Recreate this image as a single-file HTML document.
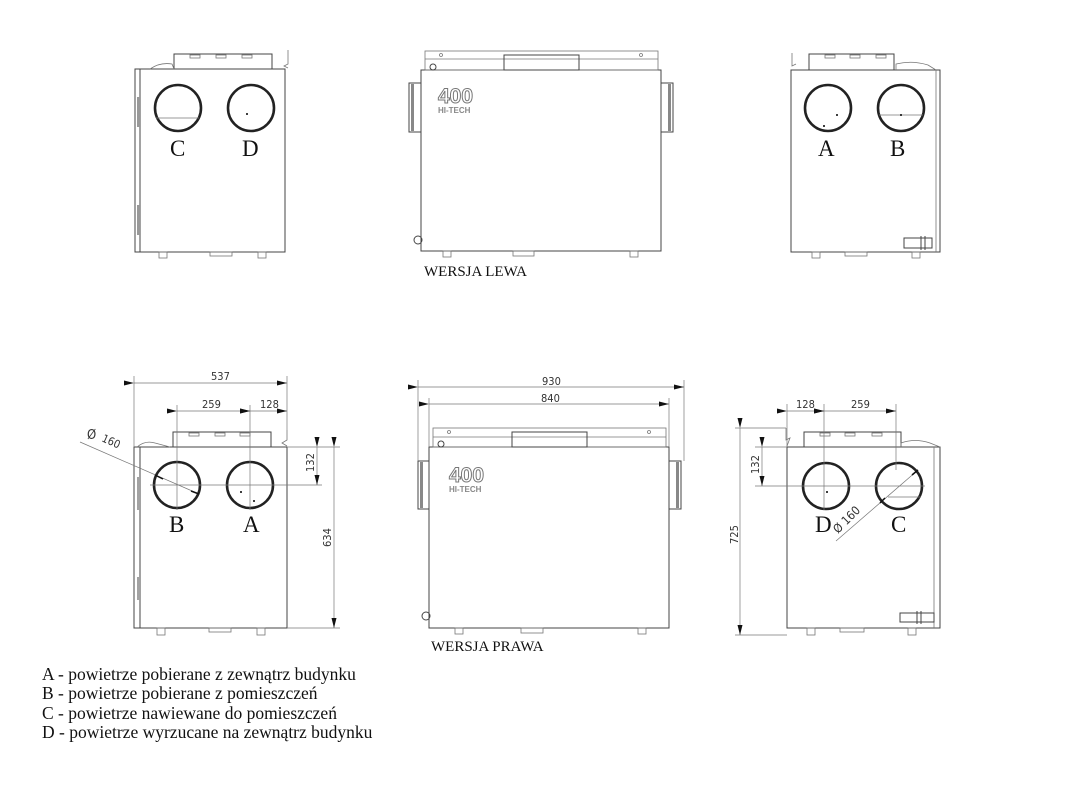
<!DOCTYPE html>
<html><head><meta charset="utf-8"><style>
html,body{margin:0;padding:0;background:#fff;}
svg{display:block}
.b{fill:none;stroke:#444;stroke-width:1}
.t{fill:none;stroke:#777;stroke-width:0.8}
.c{fill:#fff;stroke:#222;stroke-width:2.6}
.d{stroke:#777;stroke-width:0.7;fill:none}
.lab{font-family:"Liberation Serif",serif;font-size:23px;fill:#111}
.dim{font-family:"DejaVu Sans Condensed","Liberation Sans",sans-serif;font-size:11px;fill:#333}
.leg{font-family:"Liberation Serif",serif;font-size:17.5px;fill:#111}
.logo{font-family:"Liberation Sans",sans-serif;font-weight:bold;fill:#fff;stroke:#777;stroke-width:1}
.ht{font-family:"Liberation Sans",sans-serif;font-weight:bold;font-size:8px;fill:#888}
</style></head><body>
<svg width="1086" height="787" viewBox="0 0 1086 787" xmlns="http://www.w3.org/2000/svg">
<defs>
<marker id="ar" markerWidth="10" markerHeight="6" refX="10" refY="3" orient="auto" markerUnits="userSpaceOnUse"><path d="M0,0.5 L10,3 L0,5.5z" fill="#111"/></marker>
</defs>

<!-- ===== TOP LEFT ===== -->
<g>
<rect class="b" x="135" y="69" width="150" height="183"/>
<line class="b" x1="140" y1="69" x2="140" y2="252"/>
<rect x="137" y="97" width="3" height="30" fill="#999"/>
<rect x="137" y="205" width="3" height="30" fill="#999"/>
<rect class="b" x="174" y="54" width="98" height="15"/>
<path class="t" d="M150 69 Q160 62 172 64 L174 69"/>
<rect class="t" x="190" y="55" width="10" height="3"/><rect class="t" x="216" y="55" width="10" height="3"/><rect class="t" x="242" y="55" width="10" height="3"/>
<path class="t" d="M288 50 L288 64 L284 66 L288 68"/>
<rect class="t" x="159" y="252" width="8" height="6"/><rect class="t" x="210" y="252" width="22" height="4"/><rect class="t" x="258" y="252" width="8" height="6"/>
<circle class="c" cx="178" cy="108" r="23"/><line class="t" x1="156" y1="118" x2="199" y2="118"/>
<circle class="c" cx="251" cy="108" r="23"/><circle cx="247" cy="114" r="1" fill="#000"/>
<text class="lab" x="170" y="156">C</text><text class="lab" x="242" y="156">D</text>
</g>

<!-- ===== TOP MIDDLE ===== -->
<g>
<rect class="b" x="421" y="70" width="240" height="181"/>
<rect class="t" x="425" y="51" width="233" height="19"/>
<line class="t" x1="425" y1="59" x2="658" y2="59"/>
<rect class="b" x="504" y="55" width="75" height="15" fill="#fff"/>
<circle class="t" cx="441" cy="55" r="1.5"/><circle class="t" cx="641" cy="55" r="1.5"/>
<rect x="409" y="83" width="12" height="49" fill="#fff" stroke="#444"/><rect x="411" y="84" width="3" height="47" fill="#888"/>
<rect x="661" y="83" width="12" height="49" fill="#fff" stroke="#444"/><rect x="668" y="84" width="3" height="47" fill="#888"/>
<circle class="b" cx="433" cy="67" r="3"/><circle class="b" cx="418" cy="240" r="4"/>
<text class="logo" x="438" y="103" font-size="21">400</text>
<text class="ht" x="438" y="113">HI-TECH</text>
<rect class="t" x="443" y="251" width="8" height="6"/><rect class="t" x="513" y="251" width="21" height="5"/><rect class="t" x="630" y="251" width="8" height="6"/>
<text class="leg" x="424" y="276" style="font-size:15px">WERSJA LEWA</text>
</g>

<!-- ===== TOP RIGHT ===== -->
<g>
<rect class="b" x="791" y="70" width="149" height="182"/>
<line class="t" x1="936" y1="70" x2="936" y2="252"/>
<rect class="b" x="809" y="54" width="85" height="16"/>
<path class="t" d="M896 70 L896 64 Q912 60 928 65 L936 70"/>
<rect class="t" x="825" y="55" width="10" height="3"/><rect class="t" x="850" y="55" width="10" height="3"/><rect class="t" x="876" y="55" width="10" height="3"/>
<path class="t" d="M792 53 L792 66 L796 64"/>
<rect class="t" x="812" y="252" width="8" height="6"/><rect class="t" x="845" y="252" width="22" height="4"/><rect class="t" x="912" y="252" width="8" height="6"/>
<circle class="c" cx="828" cy="108" r="23"/><circle cx="837" cy="115" r="1" fill="#000"/><circle cx="824" cy="126" r="1" fill="#000"/>
<circle class="c" cx="901" cy="108" r="23"/><line class="t" x1="879" y1="115" x2="923" y2="115"/><circle cx="901" cy="115" r="1" fill="#000"/>
<text class="lab" x="818" y="156">A</text><text class="lab" x="890" y="156">B</text>
<rect class="b" x="904" y="238" width="28" height="10"/><line class="b" x1="921" y1="236" x2="921" y2="250"/><line class="b" x1="925" y1="236" x2="925" y2="250"/>
</g>

<!-- ===== BOTTOM LEFT ===== -->
<g>
<rect class="b" x="134" y="447" width="153" height="181"/>
<line class="b" x1="140" y1="447" x2="140" y2="628"/>
<line class="b" x1="138" y1="477" x2="138" y2="510"/><line class="b" x1="138" y1="577" x2="138" y2="600"/>
<rect class="b" x="173" y="432" width="98" height="15"/>
<path class="t" d="M137 447 Q145 440 155 443 L170 447"/>
<rect class="t" x="189" y="433" width="10" height="3"/><rect class="t" x="215" y="433" width="10" height="3"/><rect class="t" x="240" y="433" width="10" height="3"/>
<path class="t" d="M287 430 L287 440 L282 443 L287 446"/>
<rect class="t" x="157" y="628" width="8" height="7"/><rect class="t" x="209" y="628" width="22" height="4"/><rect class="t" x="257" y="628" width="8" height="7"/>
<circle class="c" cx="177" cy="485" r="23"/>
<circle class="c" cx="250" cy="485" r="23"/><circle cx="241" cy="492" r="1" fill="#000"/><circle cx="254" cy="501" r="1" fill="#000"/>
<text class="lab" x="169" y="532">B</text><text class="lab" x="243" y="532">A</text>
<line class="d" x1="134" y1="376" x2="134" y2="447"/><line class="d" x1="287" y1="376" x2="287" y2="430"/>
<line class="d" x1="134" y1="383" x2="287" y2="383" marker-start="url(#ar)" marker-end="url(#ar)"/>
<text class="dim" x="211" y="380">537</text>
<line class="d" x1="177" y1="405" x2="177" y2="510"/><line class="d" x1="250" y1="405" x2="250" y2="510"/>
<line class="d" x1="177" y1="411" x2="250" y2="411" marker-start="url(#ar)" marker-end="url(#ar)"/>
<line class="d" x1="250" y1="411" x2="287" y2="411" marker-start="url(#ar)" marker-end="url(#ar)"/>
<text class="dim" x="202" y="408">259</text><text class="dim" x="260" y="408">128</text>
<line class="d" x1="150" y1="485" x2="322" y2="485"/>
<line class="d" x1="287" y1="447" x2="340" y2="447"/><line class="d" x1="287" y1="628" x2="340" y2="628"/>
<line class="d" x1="317" y1="447" x2="317" y2="485" marker-start="url(#ar)" marker-end="url(#ar)"/>
<text class="dim" transform="translate(314,472) rotate(-90)">132</text>
<line class="d" x1="334" y1="447" x2="334" y2="628" marker-start="url(#ar)" marker-end="url(#ar)"/>
<text class="dim" transform="translate(331,547) rotate(-90)">634</text>
<line class="d" x1="80" y1="442" x2="199" y2="494"/>
<line x1="155" y1="475" x2="163" y2="479" stroke="#111" stroke-width="1.5"/>
<line x1="191" y1="491" x2="199" y2="494" stroke="#111" stroke-width="1.5"/>
<text class="dim" x="87" y="439" style="font-size:13px">Ø</text>
<text class="dim" transform="translate(101,441) rotate(24)">160</text>
</g>

<!-- ===== BOTTOM MIDDLE ===== -->
<g>
<rect class="b" x="429" y="447" width="240" height="181"/>
<rect class="t" x="433" y="428" width="233" height="19"/>
<line class="t" x1="433" y1="437" x2="666" y2="437"/>
<rect class="b" x="512" y="432" width="75" height="15" fill="#fff"/>
<circle class="t" cx="449" cy="432" r="1.5"/><circle class="t" cx="649" cy="432" r="1.5"/>
<rect x="418" y="461" width="11" height="48" fill="#fff" stroke="#444"/><rect x="420" y="462" width="3" height="46" fill="#888"/>
<rect x="669" y="461" width="12" height="48" fill="#fff" stroke="#444"/><rect x="676" y="462" width="3" height="46" fill="#888"/>
<circle class="b" cx="441" cy="444" r="3"/><circle class="b" cx="426" cy="616" r="4"/>
<text class="logo" x="449" y="482" font-size="21">400</text>
<text class="ht" x="449" y="492">HI-TECH</text>
<rect class="t" x="455" y="628" width="8" height="6"/><rect class="t" x="521" y="628" width="22" height="5"/><rect class="t" x="638" y="628" width="8" height="6"/>
<text class="leg" x="431" y="651" style="font-size:15px">WERSJA PRAWA</text>
<line class="d" x1="418" y1="380" x2="418" y2="461"/><line class="d" x1="684" y1="380" x2="684" y2="461"/>
<line class="d" x1="418" y1="387" x2="684" y2="387" marker-start="url(#ar)" marker-end="url(#ar)"/>
<text class="dim" x="542" y="385">930</text>
<line class="d" x1="429" y1="398" x2="429" y2="447"/><line class="d" x1="669" y1="398" x2="669" y2="447"/>
<line class="d" x1="429" y1="404" x2="669" y2="404" marker-start="url(#ar)" marker-end="url(#ar)"/>
<text class="dim" x="541" y="402">840</text>
</g>

<!-- ===== BOTTOM RIGHT ===== -->
<g>
<rect class="b" x="787" y="447" width="153" height="181"/>
<line class="t" x1="934" y1="447" x2="934" y2="628"/>
<rect class="b" x="804" y="432" width="97" height="15"/>
<path class="t" d="M901 447 L901 443 Q915 438 930 443 L940 447"/>
<rect class="t" x="820" y="433" width="10" height="3"/><rect class="t" x="845" y="433" width="10" height="3"/><rect class="t" x="872" y="433" width="10" height="3"/>
<path class="t" d="M786 428 L786 440 L790 438 L787 446"/>
<rect class="t" x="807" y="628" width="8" height="7"/><rect class="t" x="840" y="628" width="24" height="4"/><rect class="t" x="908" y="628" width="8" height="7"/>
<circle class="c" cx="826" cy="486" r="23"/><circle cx="827" cy="492" r="1" fill="#000"/>
<circle class="c" cx="899" cy="486" r="23"/><line class="t" x1="888" y1="497" x2="921" y2="497"/>
<text class="lab" x="815" y="532">D</text><text class="lab" x="891" y="532">C</text>
<rect class="b" x="900" y="613" width="34" height="9"/><line class="b" x1="917" y1="611" x2="917" y2="624"/><line class="b" x1="921" y1="611" x2="921" y2="624"/>
<line class="d" x1="787" y1="404" x2="787" y2="447"/><line class="d" x1="824" y1="404" x2="824" y2="510"/><line class="d" x1="896" y1="404" x2="896" y2="470"/>
<line class="d" x1="787" y1="411" x2="824" y2="411" marker-start="url(#ar)" marker-end="url(#ar)"/>
<line class="d" x1="824" y1="411" x2="896" y2="411" marker-start="url(#ar)" marker-end="url(#ar)"/>
<text class="dim" x="796" y="408">128</text><text class="dim" x="851" y="408">259</text>
<line class="d" x1="755" y1="486" x2="925" y2="486"/>
<line class="d" x1="755" y1="447" x2="787" y2="447"/><line class="d" x1="735" y1="428" x2="786" y2="428"/><line class="d" x1="735" y1="635" x2="787" y2="635"/>
<line class="d" x1="762" y1="447" x2="762" y2="486" marker-start="url(#ar)" marker-end="url(#ar)"/>
<text class="dim" transform="translate(759,474) rotate(-90)">132</text>
<line class="d" x1="740" y1="428" x2="740" y2="635" marker-start="url(#ar)" marker-end="url(#ar)"/>
<text class="dim" transform="translate(738,544) rotate(-90)">725</text>
<line class="d" x1="836" y1="541" x2="918" y2="470"/>
<line x1="880" y1="503" x2="885" y2="498" stroke="#111" stroke-width="1.5"/>
<line x1="912" y1="475" x2="918" y2="470" stroke="#111" stroke-width="1.5"/>
<text class="dim" transform="translate(838,534) rotate(-45)" style="font-size:12px">Ø 160</text>
</g>

<!-- legend -->
<text class="leg" x="42" y="680">A - powietrze pobierane z zewnątrz budynku</text>
<text class="leg" x="42" y="699">B - powietrze pobierane z pomieszczeń</text>
<text class="leg" x="42" y="719">C - powietrze nawiewane do pomieszczeń</text>
<text class="leg" x="42" y="738">D - powietrze wyrzucane na zewnątrz budynku</text>
</svg>
</body></html>
